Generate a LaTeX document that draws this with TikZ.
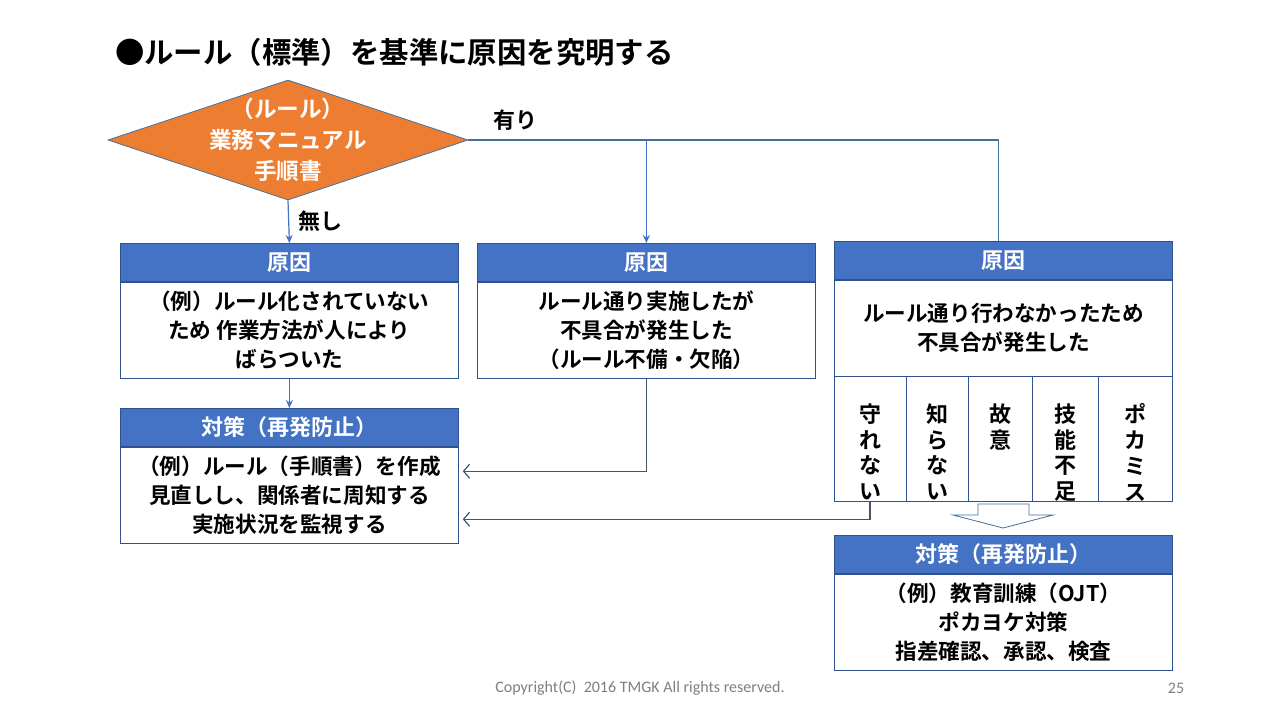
\documentclass[tikz,border=0pt]{standalone}
\usepackage{fontspec}
\setmainfont{Noto Sans CJK JP}[BoldFont={Noto Sans CJK JP Bold}]
\newfontfamily\footfont{Carlito}
\usetikzlibrary{arrows.meta,shapes.geometric}
\definecolor{headblue}{HTML}{4472C4}
\definecolor{boxline}{HTML}{2F528F}
\definecolor{ruleorange}{HTML}{ED7D31}
\definecolor{ruleline}{HTML}{41719C}
\definecolor{linkblue}{HTML}{44546A}
\definecolor{footgray}{HTML}{7F7F7F}

\tikzset{
  head/.style={draw=boxline, fill=headblue, text=white, minimum width=169pt, minimum height=19pt,
    inner sep=0pt, anchor=north west, font=\bfseries\fontsize{11}{13}\selectfont},
  body/.style={draw=boxline, fill=white, minimum width=169pt, minimum height=48pt,
    inner sep=0pt, anchor=north west, align=center, font=\bfseries\fontsize{10.8}{14.5}\selectfont},
  cell/.style={draw=boxline, minimum height=62.5pt, inner sep=0pt, outer sep=0pt, anchor=north west},
  vtext/.style={anchor=north, align=center, yshift=-10pt, font=\bfseries\fontsize{11}{12.9}\selectfont},
  toplink/.style={draw=headblue, line width=0.6pt, -{Stealth[length=4pt,width=3.5pt]}},
  link/.style={draw=linkblue, line width=0.6pt, -{Straight Barb[length=3pt,width=7pt]}},
}

\begin{document}
\begin{tikzpicture}[x=0.5pt, y=-0.5pt]
\useasboundingbox [fill=white] (0,0) rectangle (1280,720);
\node [anchor=west, font=\bfseries\fontsize{14.7}{17}\selectfont] (title) at (108,52) {●ルール（標準）を基準に原因を究明する};

% decision
\node [diamond, draw=ruleline, fill=ruleorange, minimum width=180pt, minimum height=60pt, inner sep=0pt] (rule) at (288,140) {};
\node [align=center, text=white, font=\bfseries\fontsize{11.3}{15.5}\selectfont] at (rule) {（ルール）\\業務マニュアル\\手順書};
\node [font=\bfseries\fontsize{11}{13}\selectfont] (yes) at (515,120) {有り};
\node [font=\bfseries\fontsize{11}{13}\selectfont] (no) at (320,221) {無し};

% three causes
\node [head] (cause1) at (120,243) {原因};
\node [body] (text1) at (cause1.south west) {（例）ルール化されていない\\ため 作業方法が人により\\ばらついた};
\node [head] (cause2) at (477,243) {原因};
\node [body] (text2) at (cause2.south west) {ルール通り実施したが\\不具合が発生した\\（ルール不備・欠陥）};
\node [head] (cause3) at (834,241) {原因};
\node [body] (text3) at (cause3.south west) {ルール通り行わなかったため\\不具合が発生した};

% reasons under cause 3
\node [cell, minimum width=36pt] (c1) at (text3.south west) {};
\node [cell, minimum width=31pt] (c2) at (c1.north east) {};
\node [cell, minimum width=32pt] (c3) at (c2.north east) {};
\node [cell, minimum width=33pt] (c4) at (c3.north east) {};
\node [cell, minimum width=37pt] (c5) at (c4.north east) {};
\node [vtext] at (c1.north) {守\\れ\\な\\い};
\node [vtext] at (c2.north) {知\\ら\\な\\い};
\node [vtext] at (c3.north) {故\\意};
\node [vtext] at (c4.north) {技\\能\\不\\足};
\node [vtext] at (c5.north) {ポ\\カ\\ミ\\ス};

% countermeasures
\node [head] (plan1) at (120,408) {対策（再発防止）};
\node [body] (ptext1) at (plan1.south west) {（例）ルール（手順書）を作成\\見直しし、関係者に周知する\\実施状況を監視する};
\node [head] (plan2) at (834,535) {対策（再発防止）};
\node [body] (ptext2) at (plan2.south west) {（例）教育訓練（OJT）\\ポカヨケ対策\\指差確認、承認、検査};

% hollow block arrow
\draw [draw=ruleline, fill=white] (978,504) -- (1029,504) -- (1029,515) -- (1053,515) -- (1003,528)
  -- (953,515) -- (978,515) -- cycle;

% connectors
\draw [toplink] (rule.south) -- (cause1.north);
\draw [ruleline, line width=0.6pt] (rule.east) -| ([xshift=-2.5pt]cause3.north);
\draw [toplink] (rule.east -| cause2.north) -- (cause2.north);
\draw [toplink] (text1.south) -- (plan1.north);
\draw [link] (text2.south) |- ([xshift=2pt,yshift=12pt]ptext1.east);
\draw [link] (c1.south) |- ([xshift=2pt,yshift=-12pt]ptext1.east);

% footer
\node [text=footgray, font=\footfont\fontsize{8}{10}\selectfont] (copy) at (640,688) {Copyright(C)\ \ 2016 TMGK All rights reserved.};
\node [text=footgray, font=\footfont\fontsize{8}{10}\selectfont] (page) at (1176,688) {25};
\end{tikzpicture}
\end{document}
